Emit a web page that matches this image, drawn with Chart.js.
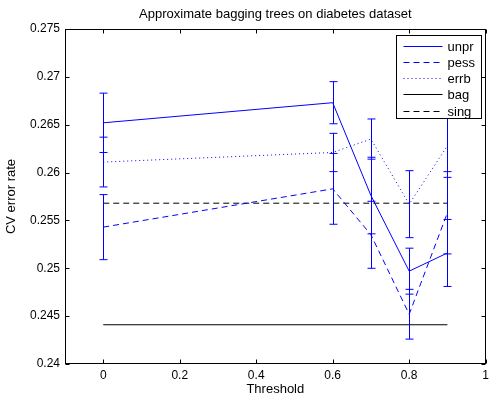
<!DOCTYPE html>
<html>
<head>
<meta charset="utf-8">
<script src="https://cdn.jsdelivr.net/npm/chart.js@4.4.0/dist/chart.umd.min.js"></script>
<style>
  html, body { margin: 0; padding: 0; background: #fff; }
  #wrap { width: 493px; height: 402px; }
</style>
</head>
<body>
<div id="wrap"><canvas id="cv" width="493" height="402"></canvas></div>
<script>
// thresholds tried and the cross-validated error at each one
var thresholds = [0, 0.6, 0.7, 0.8, 0.9];

var unpr    = [0.2652, 0.2673, 0.2576, 0.2497, 0.2516];
var unprErr = [0.0031, 0.0022, 0.0040, 0.0024, 0.0035];

var pess    = [0.2543, 0.2583, 0.2535, 0.2452, 0.2558];
var pessErr = [0.0034, 0.0037, 0.0035, 0.0026, 0.0043];

var errb    = [0.2611, 0.2621, 0.2635, 0.2567, 0.2628];
var errbErr = [0.0026, 0.0020, 0.0021, 0.0035, 0.0033];

// reference levels: bagged ensemble and single tree
var bagLevel  = 0.2441;
var singLevel = 0.2568;

var xTicks = [0, 0.2, 0.4, 0.6, 0.8, 1];
var yTicks = [0.24, 0.245, 0.25, 0.255, 0.26, 0.265, 0.27, 0.275];

var chartTitle = 'Approximate bagging trees on diabetes dataset';

var FONT = "'Liberation Sans', Arial, Helvetica, sans-serif";
Chart.defaults.font.family = FONT;
Chart.defaults.color = '#000';

var BLUE = '#0000ff';

function pts(ys) {
    return thresholds.map(function(x, i) { return {x: x, y: ys[i]}; });
}
function flat(level) {
    return [
        {x: thresholds[0], y: level},
        {x: thresholds[thresholds.length - 1], y: level}
    ];
}

// vertical error bars with short caps, drawn through the chart scales
var errorBars = {
    id: 'errorBars',
    afterDatasetsDraw: function(chart) {
        var ctx = chart.ctx;
        var xs = chart.scales.x, ys = chart.scales.y;
        ctx.save();
        chart.data.datasets.forEach(function(ds) {
            if (!ds.errors) return;
            ctx.strokeStyle = ds.borderColor;
            ctx.lineWidth = 1;
            ctx.setLineDash([]);
            ds.data.forEach(function(p, i) {
                var e = ds.errors[i];
                var px = Math.round(xs.getPixelForValue(p.x)) + 0.5;
                var top = ys.getPixelForValue(p.y + e);
                var bot = ys.getPixelForValue(p.y - e);
                ctx.beginPath();
                ctx.moveTo(px, top);
                ctx.lineTo(px, bot);
                ctx.moveTo(px - 4, top);
                ctx.lineTo(px + 4, top);
                ctx.moveTo(px - 4, bot);
                ctx.lineTo(px + 4, bot);
                ctx.stroke();
            });
        });
        ctx.restore();
    }
};

// matlab style box with inward ticks on all four sides, title centred on the axes
var axesBox = {
    id: 'axesBox',
    afterDraw: function(chart) {
        var ctx = chart.ctx;
        var a = chart.chartArea;
        var xs = chart.scales.x, ys = chart.scales.y;
        var L = Math.round(a.left) + 0.5, R = Math.round(a.right) - 0.5;
        var T = Math.round(a.top) + 0.5, B = Math.round(a.bottom) - 0.5;
        var len = 4;
        ctx.save();
        ctx.strokeStyle = '#000';
        ctx.lineWidth = 1;
        ctx.setLineDash([]);
        ctx.beginPath();
        xTicks.forEach(function(v) {
            var px = Math.round(xs.getPixelForValue(v)) + 0.5;
            ctx.moveTo(px, B); ctx.lineTo(px, B - len);
            ctx.moveTo(px, T); ctx.lineTo(px, T + len);
        });
        yTicks.forEach(function(v) {
            var py = Math.round(ys.getPixelForValue(v)) + 0.5;
            ctx.moveTo(L, py); ctx.lineTo(L + len, py);
            ctx.moveTo(R, py); ctx.lineTo(R - len, py);
        });
        ctx.stroke();
        ctx.strokeRect(L, T, R - L, B - T);

        ctx.fillStyle = '#000';
        ctx.font = '13px ' + FONT;
        ctx.textAlign = 'center';
        ctx.textBaseline = 'middle';
        ctx.fillText(chartTitle, (a.left + a.right) / 2, 14);
        ctx.restore();
    }
};

// boxed legend in the upper right corner of the axes
var boxLegend = {
    id: 'boxLegend',
    afterDraw: function(chart) {
        var ctx = chart.ctx;
        var a = chart.chartArea;
        var w = 85, h = 83;
        var x0 = Math.round(a.right) - 90 + 0.5, y0 = Math.round(a.top) + 6 + 0.5;
        ctx.save();
        ctx.fillStyle = '#fff';
        ctx.fillRect(x0, y0, w, h);
        ctx.strokeStyle = '#000';
        ctx.lineWidth = 1;
        ctx.setLineDash([]);
        ctx.strokeRect(x0, y0, w, h);
        ctx.font = '13px ' + FONT;
        ctx.textBaseline = 'middle';
        ctx.textAlign = 'left';
        chart.data.datasets.forEach(function(ds, i) {
            var y = Math.round(y0 + 10 + i * 16.3) + 0.5;
            ctx.strokeStyle = ds.borderColor;
            ctx.setLineDash(ds.borderDash || []);
            ctx.beginPath();
            ctx.moveTo(x0 + 7, y);
            ctx.lineTo(x0 + 46, y);
            ctx.stroke();
            ctx.fillStyle = '#000';
            ctx.fillText(ds.label, x0 + 51, y + 0.5);
        });
        ctx.restore();
    }
};

function lineSet(label, data, color, dash, errors) {
    return {
        label: label,
        data: data,
        showLine: true,
        borderColor: color,
        backgroundColor: color,
        borderWidth: 1,
        borderDash: dash,
        pointRadius: 0,
        pointHoverRadius: 0,
        fill: false,
        tension: 0,
        errors: errors
    };
}

new Chart(document.getElementById('cv'), {
    type: 'scatter',
    data: {
        datasets: [
            lineSet('unpr', pts(unpr), BLUE, [], unprErr),
            lineSet('pess', pts(pess), BLUE, [6, 4], pessErr),
            lineSet('errb', pts(errb), BLUE, [1, 3], errbErr),
            lineSet('bag', flat(bagLevel), '#000', [], null),
            lineSet('sing', flat(singLevel), '#000', [6, 4], null)
        ]
    },
    options: {
        responsive: false,
        animation: false,
        events: [],
        layout: { padding: { left: 0, right: 2, top: 29, bottom: 0 } },
        plugins: {
            legend: { display: false },
            tooltip: { enabled: false },
            title: { display: false }
        },
        scales: {
            x: {
                type: 'linear',
                min: -0.1,
                max: 1,
                afterBuildTicks: function(s) { s.ticks = xTicks.map(function(v) { return {value: v}; }); },
                afterFit: function(s) { s.height = 38; },
                grid: { display: false, drawTicks: false },
                border: { display: false },
                ticks: {
                    padding: 4,
                    font: { size: 12 },
                    maxRotation: 0,
                    callback: function(v) { return String(v); }
                },
                title: {
                    display: true,
                    text: 'Threshold',
                    font: { size: 13 },
                    padding: { top: 0, bottom: 5 }
                }
            },
            y: {
                type: 'linear',
                min: 0.24,
                max: 0.275,
                afterBuildTicks: function(s) { s.ticks = yTicks.map(function(v) { return {value: v}; }); },
                afterFit: function(s) { s.width = 65; },
                grid: { display: false, drawTicks: false },
                border: { display: false },
                ticks: {
                    padding: 5,
                    font: { size: 12 },
                    callback: function(v) { return String(+v.toFixed(3)); }
                },
                title: {
                    display: true,
                    text: 'CV error rate',
                    font: { size: 13 },
                    padding: { top: 4, bottom: 0 }
                }
            }
        }
    },
    plugins: [errorBars, axesBox, boxLegend]
});
</script>
</body>
</html>
